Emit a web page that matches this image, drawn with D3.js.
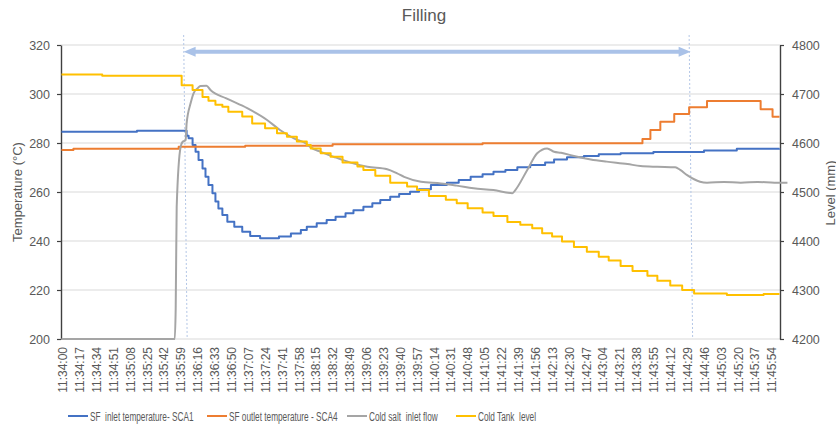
<!DOCTYPE html>
<html>
<head>
<meta charset="utf-8">
<script src="https://cdn.jsdelivr.net/npm/d3@7"></script>
<style>
  body { margin: 0; background: #fff; }
  text { font-family: "Liberation Sans", Arial, sans-serif; fill: #595959; }
</style>
</head>
<body>
<svg id="chart" width="836" height="424"></svg>
<script>
// ---- data: times are seconds after 11:34:00 ----
const startClock = "11:34:00";
const tickLabels = [
  "11:34:00","11:34:17","11:34:34","11:34:51","11:35:08","11:35:25","11:35:42","11:35:59",
  "11:36:16","11:36:33","11:36:50","11:37:07","11:37:24","11:37:41","11:37:58","11:38:15",
  "11:38:32","11:38:49","11:39:06","11:39:23","11:39:40","11:39:57","11:40:14","11:40:31",
  "11:40:48","11:41:05","11:41:22","11:41:39","11:41:56","11:42:13","11:42:30","11:42:47",
  "11:43:04","11:43:21","11:43:38","11:43:55","11:44:12","11:44:29","11:44:46","11:45:03",
  "11:45:20","11:45:37","11:45:54"
];
const lastSecond = 723;

const tempTicks = [200, 220, 240, 260, 280, 300, 320];
const levelTicks = [4200, 4300, 4400, 4500, 4600, 4700, 4800];

// SF inlet temperature - SCA1 (°C)
const inletTime = [0, 76, 126, 128, 132, 135, 138, 142, 145, 148, 152, 155, 158, 162, 167, 174, 182, 190, 200, 219, 231, 241, 247, 257, 267, 276, 286, 294, 304, 313, 321, 331, 340, 351, 360, 372, 388, 400, 412, 424, 435, 447, 459, 472, 487, 496, 509, 526, 541, 563, 596, 647, 680, 723];
const inletTemp = [284.6, 285.0, 283.0, 281.9, 279.2, 276.4, 273.1, 269.6, 266.2, 262.9, 259.5, 256.1, 253.3, 250.6, 247.9, 245.8, 243.8, 242.0, 241.1, 241.8, 243.1, 244.5, 245.8, 247.2, 248.6, 249.9, 251.3, 252.6, 254.0, 255.4, 256.7, 258.1, 259.2, 260.1, 261.1, 262.9, 263.8, 264.9, 266.2, 267.2, 268.3, 269.0, 270.1, 271.0, 272.0, 273.3, 274.2, 274.7, 275.4, 275.8, 276.3, 276.9, 277.7, 277.8];

// SF outlet temperature - SCA4 (°C)
const outletTime = [0, 12, 118, 185, 273, 424, 585, 593, 603, 617, 632, 650, 704, 716, 723];
const outletTemp = [277.1, 277.7, 278.5, 278.9, 279.5, 279.9, 281.6, 285.3, 288.7, 291.8, 294.6, 297.1, 293.8, 290.7, 290.7];

// Cold salt inlet flow (read on the temperature scale)
const flowTime = [0, 114, 115, 116, 120, 122, 125, 126, 130, 133, 137, 140, 146, 150, 166, 187, 207, 220, 234, 247, 251, 261, 274, 291, 308, 328, 338, 345, 362, 382, 398, 415, 435, 454, 457, 469, 479, 489, 496, 503, 516, 533, 549, 570, 583, 600, 618, 623, 630, 637, 643, 650, 667, 684, 701, 718, 731];
const flowValue = [200, 200, 212.6, 254, 278.5, 280.5, 281.2, 288, 296.2, 300.3, 302.3, 303.3, 303.4, 301.6, 298.2, 294.2, 289.4, 285.3, 281.9, 279.6, 278.2, 276.4, 274.4, 272.0, 270.3, 269.3, 267.6, 266.2, 264.2, 263.5, 262.6, 261.5, 260.8, 259.5, 260.8, 269.0, 275.8, 277.8, 276.4, 276.0, 274.7, 273.3, 272.4, 271.4, 270.6, 270.3, 270.1, 269.0, 266.9, 265.2, 264.2, 263.8, 264.1, 263.8, 264.1, 263.8, 263.8];

// Cold Tank level (mm)
const levelTime = [0, 41, 121, 132, 142, 148, 155, 162, 168, 182, 192, 205, 217, 227, 237, 247, 251, 261, 271, 283, 298, 304, 316, 331, 348, 358, 370, 387, 398, 409, 424, 435, 449, 462, 474, 484, 494, 504, 516, 529, 541, 551, 563, 575, 590, 600, 613, 625, 637, 670, 707, 723];
const levelValue = [4740, 4737, 4718, 4708, 4694, 4686, 4678, 4674, 4664, 4654, 4640, 4630, 4620, 4613, 4603, 4596, 4589, 4579, 4572, 4560, 4552, 4545, 4533, 4519, 4511, 4504, 4492, 4484, 4477, 4467, 4458, 4451, 4439, 4433, 4426, 4416, 4409, 4399, 4388, 4378, 4368, 4360, 4349, 4339, 4329, 4319, 4309, 4300, 4293, 4290, 4292, 4292];

// filling window marked on the chart
const fillingWindow = [123, 632];

const seriesNames = ["SF  inlet temperature- SCA1", "SF outlet temperature - SCA4", "Cold salt  inlet flow", "Cold Tank  level"];
const seriesColors = ["#4472c4", "#ed7d31", "#a5a5a5", "#ffc000"];

// ---- drawing ----
const svg = d3.select("#chart");
const plot = { left: 61, right: 780, top: 45, bottom: 339 };

const toSec = s => { const [h, m, ss] = s.split(":").map(Number); return h * 3600 + m * 60 + ss; };
const t0 = toSec(startClock);
const tickSeconds = tickLabels.map(l => toSec(l) - t0);

const x = d3.scaleLinear().domain([-0.5, lastSecond + 0.5]).range([plot.left, plot.right]);
const yT = d3.scaleLinear().domain([200, 320]).range([plot.bottom, plot.top]);
const yL = d3.scaleLinear().domain([4200, 4800]).range([plot.bottom, plot.top]);

// gridlines
svg.append("g").selectAll("line").data(tempTicks).join("line")
  .attr("x1", plot.left).attr("x2", plot.right)
  .attr("y1", d => yT(d)).attr("y2", d => yT(d))
  .attr("stroke", "#d9d9d9").attr("stroke-width", 1);

// title
svg.append("text").attr("x", 424).attr("y", 21).attr("text-anchor", "middle")
  .style("font-size", "17px").text("Filling");

// left axis
const axL = svg.append("g").attr("transform", `translate(${plot.left},0)`)
  .call(d3.axisLeft(yT).tickValues(tempTicks).tickFormat(d3.format("d"))
    .tickSize(4).tickSizeOuter(0).tickPadding(7));
axL.selectAll("text").style("font-size", "12.5px").attr("fill", "#595959");
axL.select(".domain").attr("stroke", "#404040").attr("stroke-width", 1.4);
axL.selectAll(".tick line").attr("stroke", "#404040").attr("stroke-width", 1.2);

// right axis
const axR = svg.append("g").attr("transform", `translate(${plot.right},0)`)
  .call(d3.axisRight(yL).tickValues(levelTicks).tickFormat(d3.format("d"))
    .tickSize(4).tickSizeOuter(0).tickPadding(8));
axR.selectAll("text").style("font-size", "12.5px").attr("fill", "#595959");
axR.select(".domain").attr("stroke", "#404040").attr("stroke-width", 1.4);
axR.selectAll(".tick line").attr("stroke", "#404040").attr("stroke-width", 1.2);

// axis titles
svg.append("text").attr("transform", "translate(21.5,192) rotate(-90)")
  .attr("text-anchor", "middle").style("font-size", "13px").text("Temperature (°C)");
svg.append("text").attr("transform", "translate(834.5,193) rotate(-90)")
  .attr("text-anchor", "middle").style("font-size", "13px").text("Level (mm)");

// category labels along the bottom
svg.append("g").selectAll("text").data(tickSeconds).join("text")
  .attr("transform", (d) => `translate(${x(d) + 1.5},347) rotate(-90)`)
  .attr("text-anchor", "end").attr("dy", "0.35em")
  .style("font-size", "12px")
  .text((d, i) => tickLabels[i]);

// filling window markers
const markerColor = "#b4c7e7";
fillingWindow.forEach(s => {
  svg.append("line")
    .attr("x1", x(s)).attr("y1", 35).attr("x2", x(s) + 3.5).attr("y2", plot.bottom)
    .attr("stroke", markerColor).attr("stroke-width", 1).attr("stroke-dasharray", "2,2");
});
const ax1 = x(fillingWindow[0]), ax2 = x(fillingWindow[1]) + 1.5, ay = 51.7;
svg.append("line").attr("x1", ax1 + 10).attr("x2", ax2 - 10).attr("y1", ay).attr("y2", ay)
  .attr("stroke", "#aac2e8").attr("stroke-width", 4);
svg.append("path").attr("d", `M${ax1},${ay} L${ax1 + 12},${ay - 5} L${ax1 + 12},${ay + 5} Z`).attr("fill", "#aac2e8");
svg.append("path").attr("d", `M${ax2},${ay} L${ax2 - 12},${ay - 5} L${ax2 - 12},${ay + 5} Z`).attr("fill", "#aac2e8");

// series lines
const stepLine = (yScale) => d3.line().x(d => x(d[0])).y(d => yScale(d[1])).curve(d3.curveStepAfter);
const smoothLine = (yScale) => d3.line().x(d => x(d[0])).y(d => yScale(d[1])).curve(d3.curveMonotoneX);

const zip = (a, b) => a.map((v, i) => [v, b[i]]);
const series = [
  { pts: zip(inletTime, inletTemp), gen: stepLine(yT) },
  { pts: zip(outletTime, outletTemp), gen: stepLine(yT) },
  { pts: zip(flowTime, flowValue), gen: smoothLine(yT) },
  { pts: zip(levelTime, levelValue), gen: stepLine(yL) }
];
series.forEach((s, i) => {
  svg.append("path").datum(s.pts).attr("d", s.gen)
    .attr("fill", "none").attr("stroke", seriesColors[i]).attr("stroke-width", 2)
    .attr("stroke-linejoin", "round");
});

// legend
const legendX = [68, 207, 347, 456];
const legendScale = 0.66;
const lg = svg.append("g");
seriesNames.forEach((name, i) => {
  lg.append("line").attr("x1", legendX[i]).attr("x2", legendX[i] + 20)
    .attr("y1", 416).attr("y2", 416).attr("stroke", seriesColors[i]).attr("stroke-width", 2);
  lg.append("text").attr("transform", `translate(${legendX[i] + 22},420.5) scale(${legendScale},1)`)
    .style("white-space", "pre").style("font-size", "12.5px").text(name);
});
</script>
</body>
</html>
